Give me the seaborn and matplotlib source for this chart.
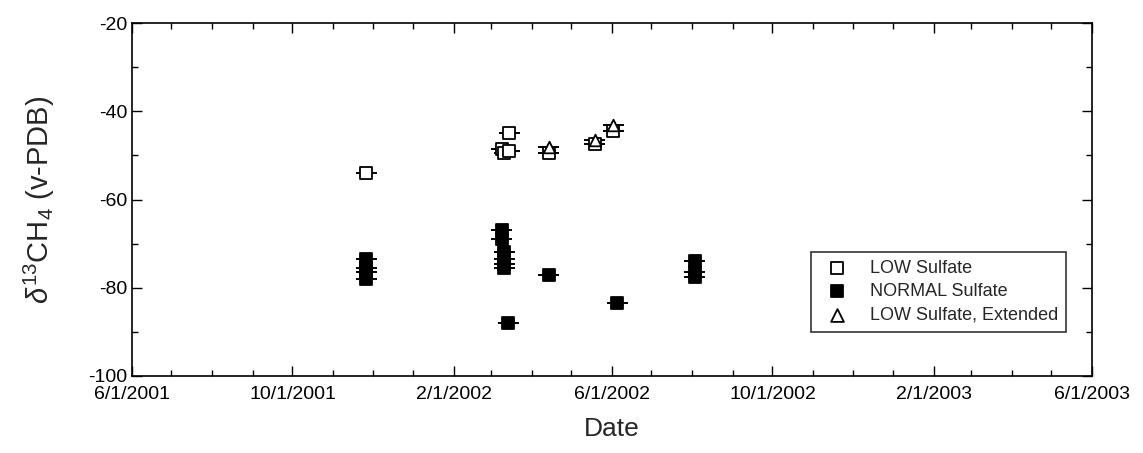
import matplotlib
matplotlib.use("Agg")
import matplotlib.pyplot as plt
import matplotlib.dates as mdates
import seaborn as sns
import pandas as pd
import numpy as np

# ---- data ----
low_dates = ['2001-11-26', '2002-03-09', '2002-03-11', '2002-03-15', '2002-03-15',
             '2002-04-14', '2002-05-19', '2002-06-02']
low_vals = [-54.0, -48.5, -49.5, -45.0, -49.0, -49.5, -47.5, -44.5]

normal_dates = ['2001-11-26', '2001-11-26', '2001-11-26', '2001-11-26',
                '2002-03-09', '2002-03-09',
                '2002-03-11', '2002-03-11', '2002-03-11', '2002-03-11',
                '2002-03-14', '2002-04-14', '2002-06-05',
                '2002-08-03', '2002-08-03', '2002-08-03']
normal_vals = [-73.5, -75.5, -76.5, -78.0,
               -67.0, -69.0,
               -72.0, -73.5, -74.5, -75.5,
               -88.0, -77.0, -83.5,
               -74.0, -76.5, -77.5]

ext_dates = ['2002-04-14', '2002-05-19', '2002-06-02']
ext_vals = [-48.0, -46.5, -43.0]

series_names = ['LOW Sulfate', 'NORMAL Sulfate', 'LOW Sulfate, Extended']

x_ticks = ['2001-06-01', '2001-10-01', '2002-02-01', '2002-06-01',
           '2002-10-01', '2003-02-01', '2003-06-01']
y_ticks = [-100, -80, -60, -40, -20]

df = pd.concat([
    pd.DataFrame({'Date': pd.to_datetime(low_dates), 'val': low_vals, 'Series': series_names[0]}),
    pd.DataFrame({'Date': pd.to_datetime(normal_dates), 'val': normal_vals, 'Series': series_names[1]}),
    pd.DataFrame({'Date': pd.to_datetime(ext_dates), 'val': ext_vals, 'Series': series_names[2]}),
], ignore_index=True)

sns.set_theme(style="ticks")
plt.rcParams['font.family'] = ['Liberation Sans', 'DejaVu Sans']
plt.rcParams['mathtext.fontset'] = 'custom'
plt.rcParams['mathtext.rm'] = 'Liberation Sans'
plt.rcParams['mathtext.it'] = 'Liberation Sans:italic'
plt.rcParams['axes.unicode_minus'] = False

fig = plt.figure(figsize=(11.43, 4.53), dpi=100)
ax = fig.add_axes([0.1155, 0.170, 0.8399, 0.779])

# error bars (horizontal and small vertical) behind markers
for name in series_names:
    sub = df[df.Series == name]
    ax.errorbar(sub['Date'], sub['val'], xerr=pd.Timedelta(days=8), yerr=0.8,
                fmt='none', ecolor='black', elinewidth=1.4, capsize=0, zorder=2)

markers = {series_names[0]: 's', series_names[1]: 's', series_names[2]: '^'}
facecol = {series_names[0]: 'white', series_names[1]: 'black', series_names[2]: 'white'}
for name in series_names:
    sub = df[df.Series == name]
    sns.scatterplot(data=sub, x='Date', y='val', ax=ax, marker=markers[name],
                    color=facecol[name], edgecolor='black', linewidth=1.3,
                    s=70, label=name, zorder=3)

ax.set_xlim(pd.Timestamp(x_ticks[0]), pd.Timestamp(x_ticks[-1]))
ax.set_ylim(-100, -20)
ax.set_xticks(pd.to_datetime(x_ticks))
ax.xaxis.set_major_formatter(plt.FuncFormatter(
    lambda v, p: (lambda d: f"{d.month}/{d.day}/{d.year}")(mdates.num2date(v))))
ax.xaxis.set_minor_locator(mdates.MonthLocator())
ax.set_yticks(y_ticks)
ax.set_yticks(np.arange(-100, -19, 10), minor=True)
ax.tick_params(which='both', direction='in', top=True, right=True, colors='black',
               labelsize=14)
ax.tick_params(which='major', length=7, width=1)
ax.tick_params(which='minor', length=4, width=1)
ax.tick_params(axis='x', which='major', pad=7)
for sp in ax.spines.values():
    sp.set_color('black')
    sp.set_linewidth(1.2)

ax.set_xlabel('Date', fontsize=19, labelpad=10)
ax.set_ylabel(r'$\delta^{13}$CH$_4$ (v-PDB)', fontsize=21, labelpad=22)

leg = ax.legend(loc='lower right', bbox_to_anchor=(0.9825, 0.100), frameon=True,
                fancybox=False, edgecolor='black', fontsize=13,
                handletextpad=0.8, borderpad=0.45, labelspacing=0.35, markerscale=1.1)
leg.get_frame().set_linewidth(1.2)

fig.savefig('out.png', dpi=100, facecolor='white')
